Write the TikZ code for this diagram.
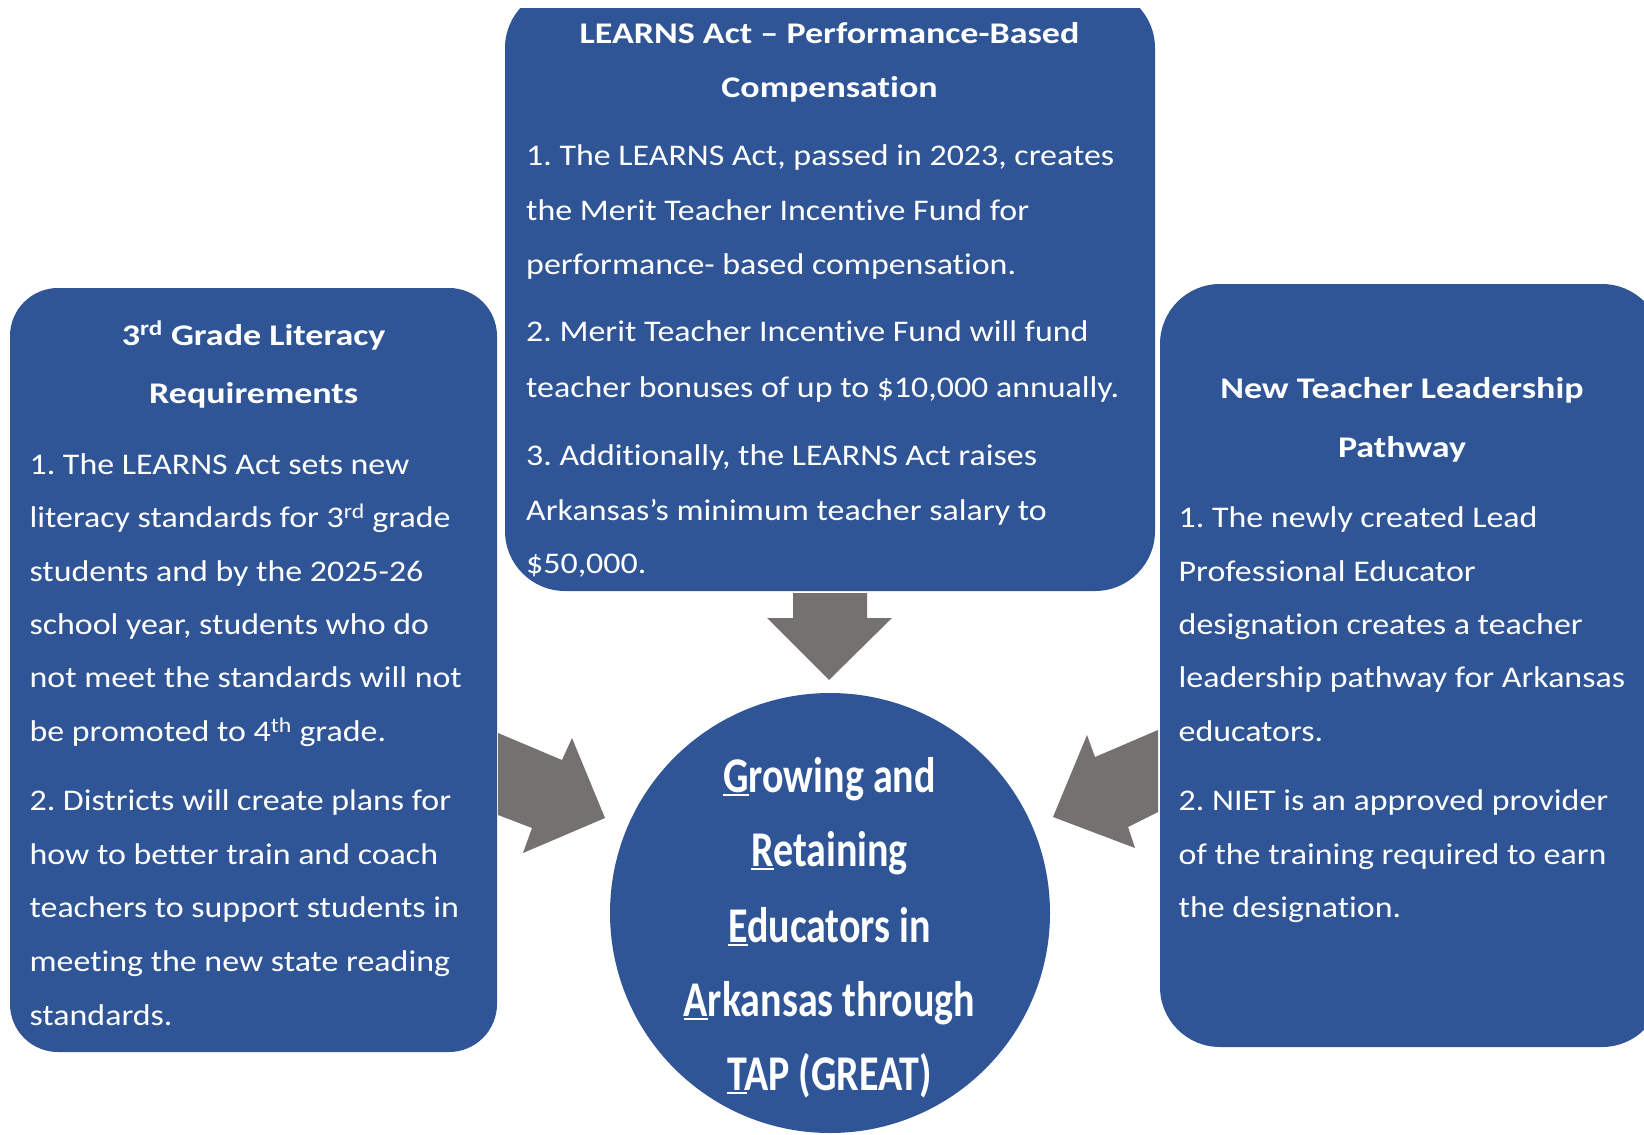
\documentclass[tikz,border=0pt]{standalone}
\usepackage{fontspec}
\setmainfont{Carlito}[Ligatures=NoCommon]
\newfontfamily\bodyfont{Carlito}[FakeStretch=1.13,Ligatures=NoCommon]
\newfontfamily\titlefont{Carlito}[FakeStretch=1.2,Ligatures=NoCommon]
\newfontfamily\circfont{Carlito}[FakeStretch=0.8,Ligatures=NoCommon]
\definecolor{boxblue}{HTML}{2F5597}
\definecolor{arrowgray}{HTML}{767171}
\newcommand{\ulfirst}[1]{\setbox0\hbox{#1}\rlap{\rule[-4pt]{\wd0}{2.5pt}}#1}
\frenchspacing
\tikzset{
  boxshape/.style={rectangle, fill=boxblue, draw=none, inner sep=0},
  bodytxt/.style={text=white, font=\bodyfont\frenchspacing\fontsize{30pt}{36pt}\selectfont, anchor=base west, inner sep=0},
  titletxt/.style={text=white, font=\titlefont\bfseries\frenchspacing\fontsize{30pt}{36pt}\selectfont, anchor=base, inner sep=0},
  circtxt/.style={text=white, font=\circfont\bfseries\frenchspacing\fontsize{50pt}{60pt}\selectfont, anchor=base, inner sep=0},
  blockarrow/.style={fill=arrowgray, draw=none}
}
\begin{document}
\begin{tikzpicture}[x=1pt,y=-1pt]
\useasboundingbox (0,0) rectangle (1644,1135);
\clip (0,8) rectangle (1644,1135);
% boxes
\node[boxshape, minimum width=487pt, minimum height=764pt, rounded corners=48pt] (leftbox) at (253.5,670) {};
\node[boxshape, minimum width=650pt, minimum height=603pt, rounded corners=60pt] (topbox) at (830,289.5) {};
\node[boxshape, minimum width=502pt, minimum height=763pt, rounded corners=60pt] (rightbox) at (1411,665.5) {};
\node[circle, fill=boxblue, draw=none, minimum size=440pt, inner sep=0] (hub) at (830,913) {};
% block arrows
\fill[blockarrow] (793,593) -- (867,593) -- (867,618) -- (892,618) -- (829,680) -- (767,618) -- (793,618) -- cycle;
\fill[blockarrow] (498,733) -- (562,760) -- (572,738) -- (605,818) -- (523,853) -- (532,828) -- (498,815) -- cycle;
\fill[blockarrow] (1158,730) -- (1095,757) -- (1087,735) -- (1053,817) -- (1135,848) -- (1128,827) -- (1158,812) -- cycle;
% center box text
\node[titletxt] (c1) at (829.5,43) {LEARNS Act – Performance-Based};
\node[titletxt] (c2) at (829.5,97.5) {Compensation};
\node[bodytxt] (c3) at (526,165.7) {1. The LEARNS Act, passed in 2023, creates};
\node[bodytxt] (c4) at (526,220) {the Merit Teacher Incentive Fund for};
\node[bodytxt] (c5) at (526,274.7) {performance- based compensation.};
\node[bodytxt] (c6) at (526,341.8) {2. Merit Teacher Incentive Fund will fund};
\node[bodytxt] (c7) at (526,397.4) {teacher bonuses of up to \$10,000 annually.};
\node[bodytxt] (c8) at (526,465.5) {3. Additionally, the LEARNS Act raises};
\node[bodytxt] (c9) at (526,520) {Arkansas’s minimum teacher salary to};
\node[bodytxt] (c10) at (526,573.5) {\$50,000.};
% left box text
\node[titletxt] (l1) at (253.7,345) {3\textsuperscript{rd} Grade Literacy};
\node[titletxt] (l2) at (253.7,403.7) {Requirements};
\node[bodytxt] (l3) at (29.4,474) {1. The LEARNS Act sets new};
\node[bodytxt] (l4) at (29.4,527.4) {literacy standards for 3\textsuperscript{rd} grade};
\node[bodytxt] (l5) at (29.4,581) {students and by the 2025-26};
\node[bodytxt] (l6) at (29.4,634.3) {school year, students who do};
\node[bodytxt] (l7) at (29.4,687.8) {not meet the standards will not};
\node[bodytxt] (l8) at (29.4,741.3) {be promoted to 4\textsuperscript{th} grade.};
\node[bodytxt] (l9) at (29.4,810.5) {2. Districts will create plans for};
\node[bodytxt] (l10) at (29.4,864) {how to better train and coach};
\node[bodytxt] (l11) at (29.4,917.4) {teachers to support students in};
\node[bodytxt] (l12) at (29.4,971) {meeting the new state reading};
\node[bodytxt] (l13) at (29.4,1025) {standards.};
% right box text
\node[titletxt] (r1) at (1402,398.4) {New Teacher Leadership};
\node[titletxt] (r2) at (1402,457) {Pathway};
\node[bodytxt] (r3) at (1178.5,527.4) {1. The newly created Lead};
\node[bodytxt] (r4) at (1178.5,581) {Professional Educator};
\node[bodytxt] (r5) at (1178.5,634.3) {designation creates a teacher};
\node[bodytxt] (r6) at (1178.5,687.8) {leadership pathway for Arkansas};
\node[bodytxt] (r7) at (1178.5,741.3) {educators.};
\node[bodytxt] (r8) at (1178.5,810.5) {2. NIET is an approved provider};
\node[bodytxt] (r9) at (1178.5,864) {of the training required to earn};
\node[bodytxt] (r10) at (1178.5,917.4) {the designation.};
% circle text
\node[circtxt] (g1) at (829.5,792) {\ulfirst{G}rowing and};
\node[circtxt] (g2) at (829.5,866) {\ulfirst{R}etaining};
\node[circtxt] (g3) at (829.5,942) {\ulfirst{E}ducators in};
\node[circtxt] (g4) at (829.5,1016) {\ulfirst{A}rkansas through};
\node[circtxt] (g5) at (829.5,1090) {\ulfirst{T}AP (GREAT)};
\end{tikzpicture}
\end{document}
